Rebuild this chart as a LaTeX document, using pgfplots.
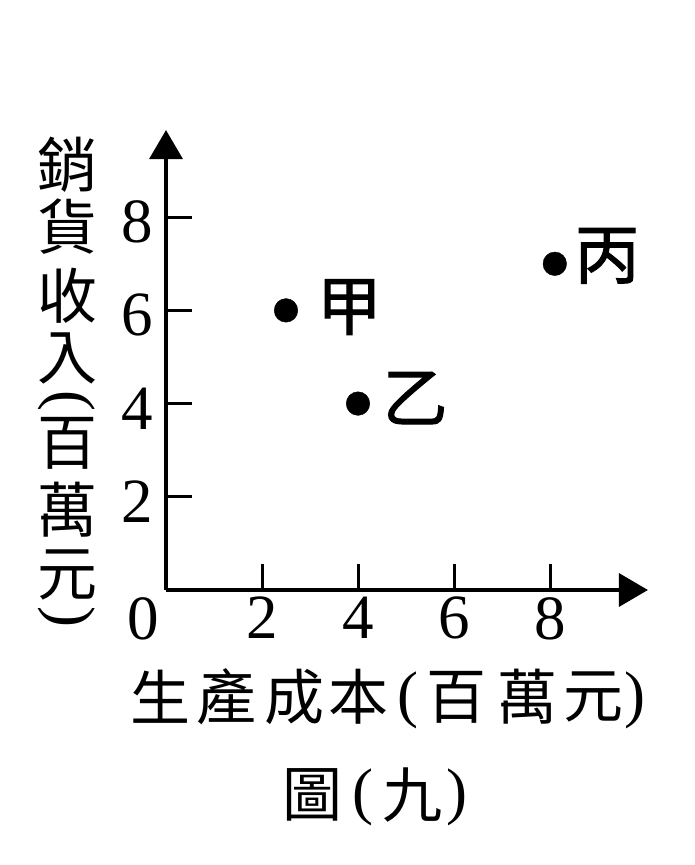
\documentclass[border=0pt]{standalone}
\usepackage{pgfplots}
\pgfplotsset{compat=1.18}
\usepackage{fontspec}
\usetikzlibrary{arrows.meta}
\setmainfont{Liberation Serif}
\newfontfamily\cjk{Noto Sans CJK TC}
\newfontfamily\cjkm[FakeBold=1.5]{Noto Sans CJK TC}

% sizes in pt = pixels of the reference
\newcommand\numfont{\fontsize{63}{63}\selectfont}
\newcommand\labfont{\cjk\fontsize{60}{60}\selectfont}
\newcommand\ptfont{\cjkm\fontsize{65}{65}\selectfont}

\begin{document}
\begin{tikzpicture}
\useasboundingbox (0,0) rectangle (695pt,865pt);

\begin{axis}[
    at={(166pt,275pt)}, anchor=origin,
    x=48pt, y=46.6pt,
    xmin=0, xmax=10.04,
    ymin=0, ymax=9.87,
    axis lines=left,
    axis line style={line width=3.5pt, black, -{Triangle[length=29pt,width=33pt]}},
    xtick={2,4,6,8}, ytick={2,4,6,8},
    tick align=inside,
    major tick length=26pt,
    tick style={line width=3pt, black},
    /pgf/number format/assume math mode=true,
    xticklabel style={font=\numfont, inner sep=0pt, anchor=north, yshift=-7pt},
    yticklabel style={font=\numfont, inner sep=0pt, anchor=east, xshift=-13pt, yshift=-5pt},
    clip=false,
]
\addplot[only marks, mark=*, mark size=11.8pt, black] coordinates {
    (2.5,6)
    (4,4)
    (8.1,7)
};
\node[font=\ptfont, inner sep=0pt] at (axis cs:3.82,6.07) {甲};
\node[font=\ptfont, inner sep=0pt] at (axis cs:5.19,4.12) {乙};
\node[font=\ptfont, inner sep=0pt] at (axis cs:9.19,7.17) {丙};
\end{axis}

% origin label
\node[font=\numfont, inner sep=0pt, anchor=north] at (143pt,268pt) {0};

% y label, stacked vertically
\foreach \c/\y in {銷/700, 貨/638, 收/569, 入/507, 百/422, 萬/355, 元/290}
    \node[font=\labfont, inner sep=0pt] at (67pt,\y pt) {\c};
\node[font=\numfont, inner sep=0pt, rotate=-90] at (67pt,464pt) {(};
\node[font=\numfont, inner sep=0pt, rotate=-90] at (67pt,248pt) {)};

% x label
\foreach \c/\x in {生/160, 產/226, 成/294, 本/358, 百/456, 萬/527, 元/593}
    \node[font=\labfont, inner sep=0pt] at (\x pt,168pt) {\c};
\node[font=\numfont, inner sep=0pt] at (408pt,165pt) {(};
\node[font=\numfont, inner sep=0pt] at (635pt,165pt) {)};

% caption
\node[font=\labfont, inner sep=0pt] at (312pt,70pt) {圖};
\node[font=\numfont, inner sep=0pt] at (363pt,68pt) {(};
\node[font=\labfont, inner sep=0pt] at (412pt,70pt) {九};
\node[font=\numfont, inner sep=0pt] at (457pt,68pt) {)};
\end{tikzpicture}
\end{document}
